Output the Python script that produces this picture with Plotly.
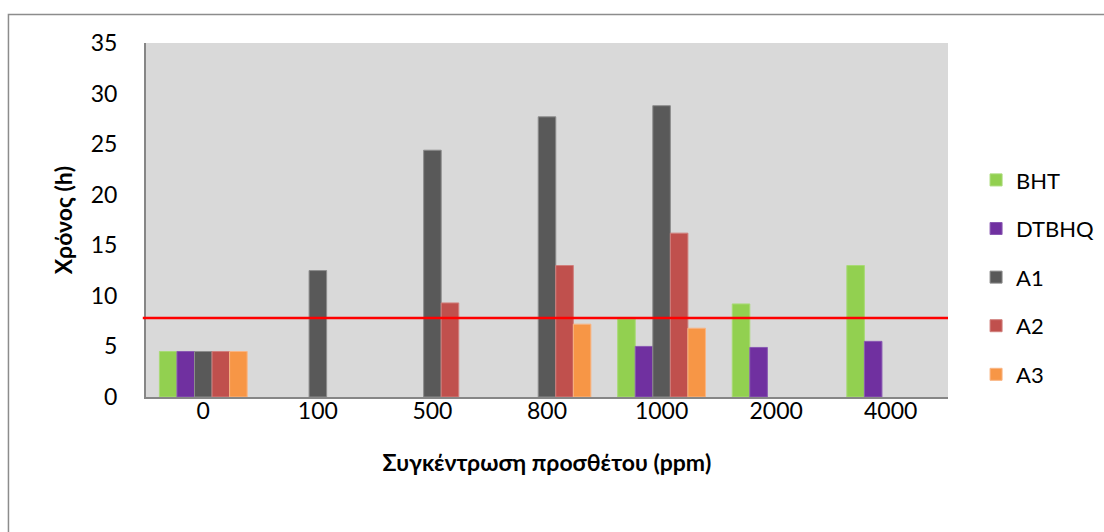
import plotly.graph_objects as go

# Additive concentration (ppm) on the category axis
concentrations = ["0", "100", "500", "800", "1000", "2000", "4000"]

# Induction time (h) for each antioxidant
bht = [4.5, None, None, None, 7.7, 9.2, 13.0]
dtbhq = [4.5, None, None, None, 5.0, 4.9, 5.5]
a1 = [4.5, 12.5, 24.4, 27.7, 28.8, None, None]
a2 = [4.5, None, 9.3, 13.0, 16.2, None, None]
a3 = [4.5, None, None, 7.2, 6.8, None, None]

series_names = ["BHT", "DTBHQ", "A1", "A2", "A3"]
series_values = [bht, dtbhq, a1, a2, a3]
series_colors = ["#92D050", "#7030A0", "#595959", "#C0504D", "#F79646"]
series_edges = ["#A8DA76", "#8A5AB3", "#8C8C8C", "#D07F7C", "#F9B583"]

# Reference limit drawn across the plot
limit_value = 7.8

FONT = "Lato"

fig = go.Figure()
for name, vals, col, edge in zip(series_names, series_values, series_colors, series_edges):
    fig.add_trace(go.Bar(
        x=concentrations, y=vals, name=name, legendgroup=name,
        marker=dict(color=col, line=dict(color=edge, width=1)),
    ))

fig.add_shape(
    type="line", xref="paper", yref="y",
    x0=-0.004, x1=1.0, y0=limit_value, y1=limit_value,
    line=dict(color="#FF0000", width=2.5), layer="above",
)

# Outer chart frame
fig.add_shape(
    type="rect", xref="paper", yref="paper",
    x0=-0.1715, x1=1.25, y0=-0.45, y1=1.0805,
    line=dict(color="#8C8C8C", width=1.5), fillcolor="rgba(0,0,0,0)", layer="below",
)

fig.update_layout(
    width=1104, height=532,
    margin=dict(l=146, r=156, t=43, b=135, autoexpand=False),
    paper_bgcolor="white", plot_bgcolor="#D9D9D9",
    barmode="group", bargap=0.234, bargroupgap=0,
    font=dict(family=FONT, size=23, color="black"),
    showlegend=True,
    legend=dict(
        x=1.035, xanchor="left", y=0.672, yanchor="top",
        font=dict(family=FONT, size=22, color="black"),
        tracegroupgap=17, itemwidth=30, bgcolor="rgba(0,0,0,0)",
    ),
    xaxis=dict(
        showgrid=False, showline=True, linecolor="#868686", linewidth=2,
        ticks="", ticklabelstandoff=-8,
        title=dict(text="<b>Συγκέντρωση προσθέτου (ppm)</b>", font=dict(family=FONT, size=23), standoff=32),
    ),
    yaxis=dict(
        range=[0, 35], dtick=5, showgrid=False, zeroline=False,
        showline=True, linecolor="#868686", linewidth=2,
        ticks="", ticklabelstandoff=22,
        title=dict(text="<b>Χρόνος (h)</b>", font=dict(family=FONT, size=23), standoff=12),
    ),
)

fig.write_html("out.html")
